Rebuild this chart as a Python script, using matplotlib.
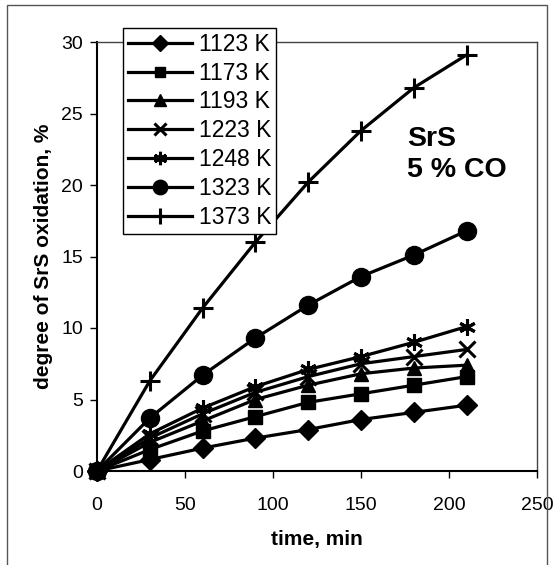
import matplotlib
matplotlib.use("Agg")
import matplotlib.pyplot as plt
from matplotlib.patches import Rectangle

plt.rcParams["font.family"] = ["Liberation Sans", "DejaVu Sans"]

time_min = [0, 30, 60, 90, 120, 150, 180, 210]
labels = ["1123 K", "1173 K", "1193 K", "1223 K", "1248 K", "1323 K", "1373 K"]
oxidation = [
    [0, 0.8, 1.6, 2.3, 2.9, 3.6, 4.1, 4.6],
    [0, 1.5, 2.8, 3.8, 4.8, 5.4, 6.0, 6.6],
    [0, 2.0, 3.5, 5.0, 6.0, 6.8, 7.2, 7.4],
    [0, 2.3, 4.0, 5.5, 6.6, 7.5, 8.0, 8.5],
    [0, 2.6, 4.4, 5.9, 7.1, 8.0, 9.0, 10.1],
    [0, 3.7, 6.7, 9.3, 11.6, 13.6, 15.1, 16.8],
    [0, 6.3, 11.4, 16.0, 20.2, 23.8, 26.8, 29.1],
]
markers = ["D", "s", "^", "x", (6, 2, 0), "o", "+"]
sizes = [10, 9.5, 10, 11, 12, 13, 15]

W, H = 553, 565
fig = plt.figure(figsize=(W / 100, H / 100), dpi=100)
fig.patch.set_facecolor("white")
# scanned page frame (bottom edge runs off the image)
fig.patches.append(Rectangle((7 / W, -0.01), 540 / W, 1 - 5 / H + 0.01,
                             transform=fig.transFigure, fill=False,
                             edgecolor="#555555", linewidth=1.0))

ax = fig.add_axes([97 / W, 1 - 471 / H, 440 / W, 429 / H])
for vals, lab, mk, ms in zip(oxidation, labels, markers, sizes):
    thin = mk in ("x", "+") or isinstance(mk, tuple)
    ax.plot(time_min, vals, color="black", linewidth=2.3, marker=mk,
            markersize=ms, markeredgewidth=2.2 if thin else 1.0,
            label=lab, clip_on=False, zorder=3)

ax.set_xlim(0, 250)
ax.set_ylim(0, 30)
ax.set_xticks([0, 50, 100, 150, 200, 250])
ax.set_yticks([0, 5, 10, 15, 20, 25, 30])
ax.tick_params(axis="both", direction="out", length=5, width=1.0, labelsize=14, colors="black")
ax.tick_params(axis="x", pad=14)
ax.tick_params(axis="y", pad=5)
ax.spines["left"].set_linewidth(1.5)
ax.spines["bottom"].set_linewidth(1.5)
for side in ("top", "right"):
    ax.spines[side].set_color("#444444")
    ax.spines[side].set_linewidth(1.0)

ax.set_xlabel("time, min", fontsize=15, fontweight="bold", labelpad=11)
ax.set_ylabel("degree of SrS oxidation, %", fontsize=15, fontweight="bold", labelpad=6)

ax.text((407 - 97) / 440, (471 - 126) / 429, "SrS\n5 % CO", transform=ax.transAxes,
        fontsize=20.5, fontweight="bold", ha="left", va="top", linespacing=1.25)

leg = ax.legend(loc="upper left", bbox_to_anchor=(123 / W, 1 - 28 / H),
                bbox_transform=fig.transFigure, borderaxespad=0, fontsize=16.5,
                frameon=True, fancybox=False, edgecolor="black", framealpha=1,
                handlelength=2.8, handletextpad=0.3, labelspacing=0.26,
                borderpad=0.2, markerscale=0.8)
leg.get_frame().set_linewidth(1.0)
leg.set_zorder(5)

fig.savefig("out.png", dpi=100)
